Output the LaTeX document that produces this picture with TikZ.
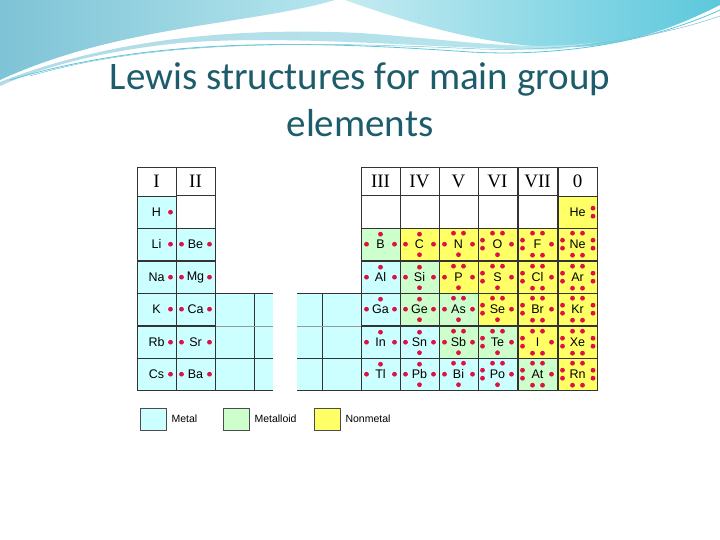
\documentclass[tikz,border=0pt]{standalone}
\usepackage{fontspec}
\setmainfont{Liberation Sans}
\newfontfamily\titlefont{Carlito}
\newfontfamily\serifhead{Liberation Serif}
\definecolor{metal}{HTML}{CCFFFF}
\definecolor{metoid}{HTML}{CCFFCC}
\definecolor{nonmet}{HTML}{FFFF66}
\definecolor{dotc}{HTML}{DD1144}
\definecolor{titlec}{HTML}{1D5C6B}
\definecolor{bannerA}{HTML}{7EC3D6}
\definecolor{bannerB}{HTML}{B6E6EE}
\definecolor{bannerC}{HTML}{5CC8DC}
\newcommand\dd[2]{\fill[dotc] (#1,#2) circle (2.4pt);}
\newcommand\dL{\dd{-14}{0}}
\newcommand\dR{\dd{14}{0}}
\newcommand\dT{\dd{0}{-10}}
\newcommand\dB{\dd{0}{10.5}}
\newcommand\dLL{\dd{-15}{-4}\dd{-15}{4}}
\newcommand\dRR{\dd{15.5}{-4}\dd{15.5}{4}}
\newcommand\dTT{\dd{-5}{-11}\dd{5}{-11}}
\newcommand\dBB{\dd{-5}{11}\dd{5}{11}}
\newcommand\gA{\dR}
\newcommand\gB{\dL\dR}
\newcommand\gC{\dL\dR\dT}
\newcommand\gD{\dL\dR\dT\dB}
\newcommand\gE{\dL\dR\dTT\dB}
\newcommand\gF{\dLL\dR\dTT\dB}
\newcommand\gG{\dLL\dR\dTT\dBB}
\newcommand\gH{\dLL\dRR\dTT\dBB}
\newcommand\gHe{\dRR}
\begin{document}
\begin{tikzpicture}[x=1pt,y=-1pt,
  cell/.style={draw=black!80,line width=0.6pt,minimum width=39pt,minimum height=32.4pt,inner sep=0pt,font=\fontsize{12.5}{12.5}\selectfont},
  head/.style={cell,fill=white,minimum height=29pt,font=\serifhead\fontsize{19}{19}\selectfont},
  legbox/.style={draw=black!70,line width=0.6pt,minimum width=26pt,minimum height=22pt,inner sep=0pt},
  legtxt/.style={anchor=west,font=\fontsize{10.5}{10.5}\selectfont}]
\useasboundingbox (0,0) rectangle (720,540);
\fill[white] (0,0) rectangle (720,540);
% banner
\shade[left color=bannerA,right color=bannerB] (0,0) -- (335,0) .. controls (250,25) and (120,25) .. (0,80) -- cycle;
\shade[left color=bannerB!80!white,right color=bannerC] (345,0) .. controls (430,30) and (520,55) .. (600,45) .. controls (650,38) and (690,20) .. (720,5) -- (720,0) -- cycle;
\shade[left color=bannerA!60,right color=bannerB] (0,82) .. controls (120,35) and (250,28) .. (360,33) .. controls (460,40) and (520,52) .. (600,42) -- (560,49) .. controls (470,52) and (300,33) .. (180,43) .. controls (100,51) and (40,68) .. (0,86) -- cycle;
\draw[bannerC,line width=0.8pt] (10,80) .. controls (150,38) and (300,40) .. (470,52) .. controls (560,57) and (650,42) .. (720,10);
\draw[bannerA,line width=0.5pt] (30,76) .. controls (160,38) and (320,42) .. (480,49) .. controls (570,52) and (660,37) .. (720,16);
% title
\node[font=\titlefont\fontsize{39}{47}\selectfont,text=titlec,align=center] (title) at (360,100) {Lewis structures for main group\\elements};
% table area
\fill[white] (128,157) rectangle (606,440);
% transition block
\fill[metal] (215,293) rectangle (273,390);
\fill[metal] (297,293) rectangle (361,390);
\draw[black!80,line width=0.6pt] (215,293) -- (273,293) (297,293) -- (361,293) (215,390) -- (273,390) (297,390) -- (361,390) (215,358) -- (273,358) (297,358) -- (361,358) (254,293) -- (254,390) (322,293) -- (322,390);
\draw[black!40,line width=0.5pt] (215,326) -- (273,326) (297,326) -- (361,326);
% headers
\foreach \c/\t/\n in {137/I/hI,176/II/hII,361/III/hIII,400/IV/hIV,439/V/hV,478/VI/hVI,518/VII/hVII,558/0/hO}
  \node[head] (\n) at (\c+19.5,181.5) {\t};
% empty cells
\foreach \c/\n in {176/eII,361/eIII,400/eIV,439/eV,478/eVI,518/eVII}
  \node[cell,fill=white] (\n) at (\c+19.5,212) {};
% elements
\foreach \c/\r/\s/\k/\g in {
 137/196/H/metal/gA, 558/196/He/nonmet/gHe,
 137/228/Li/metal/gA, 176/228/Be/metal/gB, 361/228/B/metoid/gC, 400/228/C/nonmet/gD, 439/228/N/nonmet/gE, 478/228/O/nonmet/gF, 518/228/F/nonmet/gG, 558/228/Ne/nonmet/gH,
 137/261/Na/metal/gA, 176/261/Mg/metal/gB, 361/261/Al/metal/gC, 400/261/Si/metoid/gD, 439/261/P/nonmet/gE, 478/261/S/nonmet/gF, 518/261/Cl/nonmet/gG, 558/261/Ar/nonmet/gH,
 137/293/K/metal/gA, 176/293/Ca/metal/gB, 361/293/Ga/metal/gC, 400/293/Ge/metoid/gD, 439/293/As/metoid/gE, 478/293/Se/nonmet/gF, 518/293/Br/nonmet/gG, 558/293/Kr/nonmet/gH,
 137/326/Rb/metal/gA, 176/326/Sr/metal/gB, 361/326/In/metal/gC, 400/326/Sn/metal/gD, 439/326/Sb/metoid/gE, 478/326/Te/metoid/gF, 518/326/I/nonmet/gG, 558/326/Xe/nonmet/gH,
 137/358/Cs/metal/gA, 176/358/Ba/metal/gB, 361/358/Tl/metal/gC, 400/358/Pb/metal/gD, 439/358/Bi/metal/gE, 478/358/Po/metal/gF, 518/358/At/metoid/gG, 558/358/Rn/nonmet/gH}
{
  \node[cell,fill=\k] (el\s) at (\c+19.5,\r+16.2) {\s};
  \begin{scope}[shift={(\c+19.5,\r+16.2)}]
    \csname\g\endcsname
  \end{scope}
}
% legend
\node[legbox,fill=metal] (lm) at (153,419) {};
\node[legtxt] (lmt) at (168,419) {Metal};
\node[legbox,fill=metoid] (lmd) at (236,419) {};
\node[legtxt] (lmdt) at (251,419) {Metalloid};
\node[legbox,fill=nonmet] (ln) at (327,419) {};
\node[legtxt] (lnt) at (342,419) {Nonmetal};
\end{tikzpicture}
\end{document}
